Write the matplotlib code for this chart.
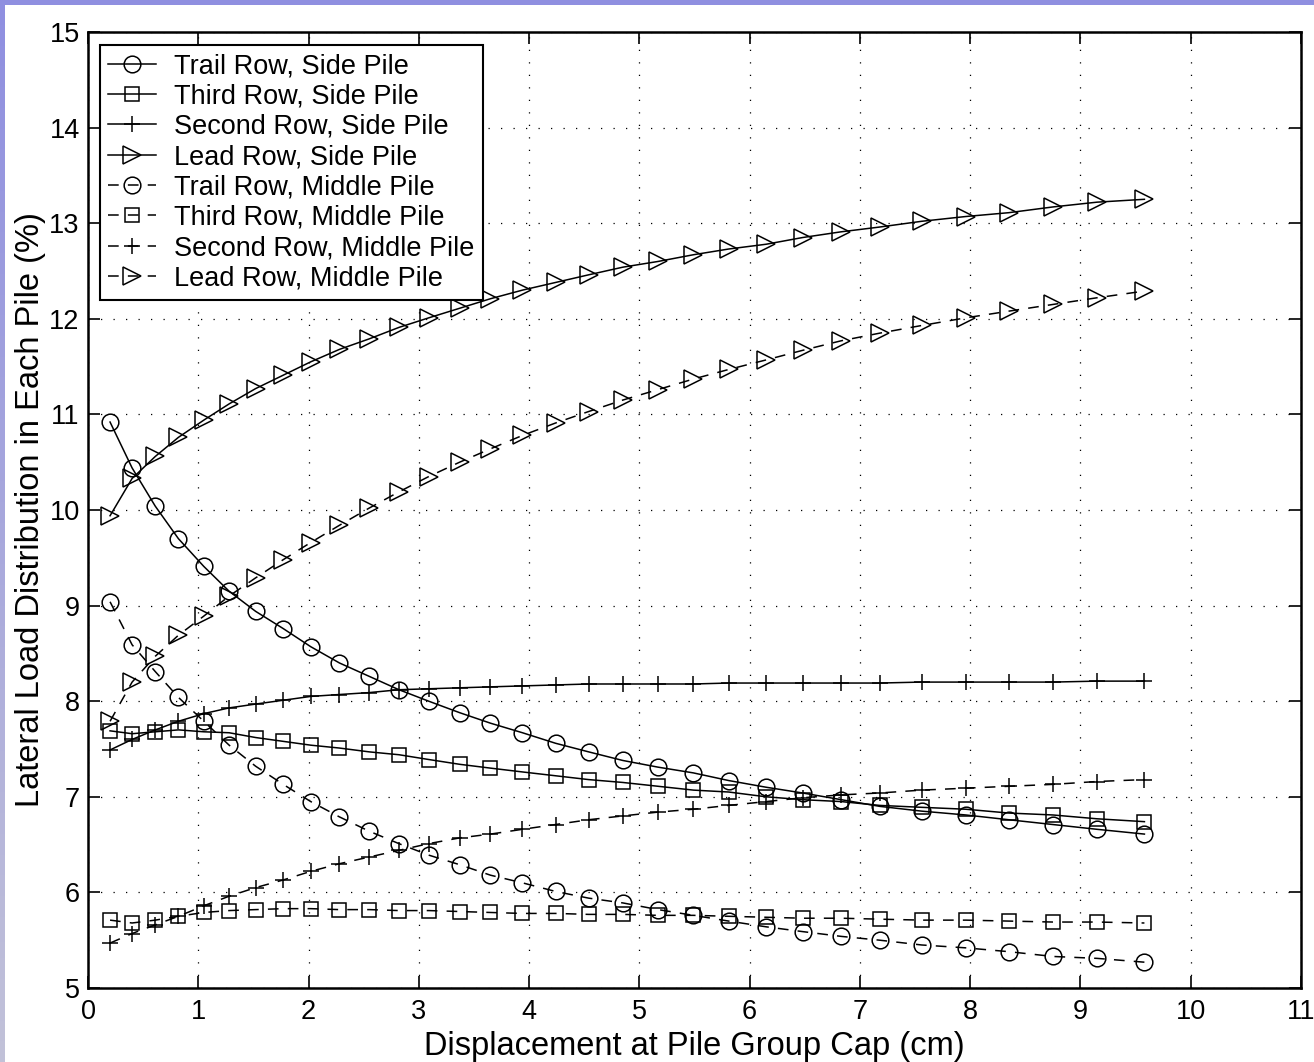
import numpy as np
import matplotlib
matplotlib.use("Agg")
import matplotlib.pyplot as plt

plt.rcParams['font.family'] = ['Liberation Sans', 'DejaVu Sans']

# displacement at the pile cap (cm), shared by every curve
disp = [0.20, 0.40, 0.61, 0.82, 1.05, 1.28, 1.52, 1.77, 2.02, 2.28, 2.55, 2.82,
        3.09, 3.37, 3.65, 3.94, 4.24, 4.54, 4.85, 5.17, 5.49, 5.81, 6.15, 6.48,
        6.83, 7.18, 7.56, 7.96, 8.35, 8.75, 9.15, 9.58]

# load share (%) per pile
trail_side = [10.92, 10.44, 10.04, 9.70, 9.41, 9.15, 8.94, 8.76, 8.57, 8.40, 8.26, 8.12,
              8.00, 7.88, 7.77, 7.67, 7.56, 7.47, 7.38, 7.31, 7.25, 7.17, 7.10, 7.04,
              6.97, 6.90, 6.85, 6.81, 6.76, 6.71, 6.66, 6.61]
third_side = [7.69, 7.66, 7.68, 7.70, 7.68, 7.67, 7.62, 7.58, 7.54, 7.51, 7.47, 7.44,
              7.39, 7.34, 7.30, 7.26, 7.22, 7.18, 7.15, 7.11, 7.07, 7.05, 7.00, 6.97,
              6.95, 6.91, 6.89, 6.87, 6.83, 6.81, 6.77, 6.74]
second_side = [7.49, 7.60, 7.70, 7.79, 7.87, 7.93, 7.97, 8.01, 8.05, 8.07, 8.09, 8.12,
               8.13, 8.14, 8.15, 8.16, 8.17, 8.18, 8.18, 8.18, 8.18, 8.19, 8.19, 8.19,
               8.19, 8.19, 8.20, 8.20, 8.20, 8.20, 8.21, 8.21]
lead_side = [9.94, 10.33, 10.56, 10.76, 10.94, 11.11, 11.27, 11.41, 11.55, 11.68, 11.79, 11.91,
             12.01, 12.11, 12.21, 12.30, 12.38, 12.46, 12.54, 12.60, 12.67, 12.73, 12.78, 12.85,
             12.91, 12.96, 13.02, 13.07, 13.11, 13.17, 13.22, 13.25]
trail_mid = [9.04, 8.59, 8.31, 8.04, 7.79, 7.54, 7.32, 7.13, 6.95, 6.79, 6.64, 6.51,
             6.39, 6.29, 6.18, 6.10, 6.01, 5.94, 5.89, 5.82, 5.76, 5.70, 5.64, 5.59,
             5.54, 5.50, 5.45, 5.42, 5.38, 5.33, 5.31, 5.27]
third_mid = [5.71, 5.68, 5.71, 5.75, 5.79, 5.81, 5.82, 5.83, 5.83, 5.82, 5.82, 5.81,
             5.81, 5.80, 5.79, 5.78, 5.78, 5.77, 5.77, 5.76, 5.76, 5.75, 5.74, 5.73,
             5.73, 5.72, 5.71, 5.71, 5.70, 5.69, 5.69, 5.68]
second_mid = [5.47, 5.57, 5.66, 5.75, 5.86, 5.96, 6.05, 6.13, 6.22, 6.30, 6.37, 6.44,
              6.51, 6.57, 6.61, 6.66, 6.71, 6.76, 6.80, 6.84, 6.87, 6.91, 6.95, 6.99,
              7.02, 7.04, 7.07, 7.09, 7.11, 7.13, 7.16, 7.18]
lead_mid = [7.79, 8.20, 8.47, 8.69, 8.89, 9.10, 9.29, 9.48, 9.66, 9.84, 10.02, 10.19,
            10.35, 10.50, 10.64, 10.78, 10.91, 11.03, 11.15, 11.26, 11.37, 11.47, 11.57, 11.67,
            11.77, 11.85, 11.93, 12.01, 12.08, 12.15, 12.22, 12.29]

labels = ['Trail Row, Side Pile', 'Third Row, Side Pile', 'Second Row, Side Pile',
          'Lead Row, Side Pile', 'Trail Row, Middle Pile', 'Third Row, Middle Pile',
          'Second Row, Middle Pile', 'Lead Row, Middle Pile']
series = [trail_side, third_side, second_side, lead_side,
          trail_mid, third_mid, second_mid, lead_mid]
markers = ['o', 's', '+', '>', 'o', 's', '+', '>']
msizes = {'o': 12, 's': 10, '+': 12, '>': 13}
dashed = (0, (7, 6))

fig = plt.figure(figsize=(13.14, 10.62), dpi=100)
fig.patch.set_facecolor('white')

# window frame strips along the top and left edge
strip = fig.add_axes([0, 0, 5 / 1314, 1])
grad = np.linspace(0, 1, 256).reshape(-1, 1)
cols = np.array([[0.56, 0.56, 0.88]]) * (1 - grad[:, :, None]) + np.array([[0.76, 0.76, 0.85]]) * grad[:, :, None]
strip.imshow(cols, aspect='auto', extent=[0, 1, 0, 1], origin='upper')
strip.axis('off')
top = fig.add_axes([0, 1 - 5 / 1062, 1, 5 / 1062])
top.axis('off')
top.add_patch(plt.Rectangle((0, 0), 1, 1, color='#8f8fe0', transform=top.transAxes))

ax = fig.add_axes([88 / 1314, 74 / 1062, 1213 / 1314, 956 / 1062])

for i, (y, lab, m) in enumerate(zip(series, labels, markers)):
    ls = '-' if i < 4 else dashed
    ax.plot(disp, y, linestyle=ls, color='black', lw=1.1, marker=m,
            ms=msizes[m], mfc='none', mec='black', mew=1.1, label=lab)

ax.set_xlim(0, 11)
ax.set_ylim(5, 15)
ax.set_xticks(range(0, 12))
ax.set_yticks(range(5, 16))
ax.grid(True, color='black', linestyle=(0, (1, 9)), linewidth=0.9)
ax.tick_params(direction='in', length=8.5, width=1.2, top=True, right=True,
               labelsize=19.5, pad=6)
ax.tick_params(axis='x', pad=8)
for sp in ax.spines.values():
    sp.set_linewidth(1.8)

ax.set_xlabel('Displacement at Pile Group Cap (cm)', fontsize=23.5, labelpad=4)
ax.set_ylabel('Lateral Load Distribution in Each Pile (%)', fontsize=23.5, labelpad=2)

leg = ax.legend(loc='upper left', bbox_to_anchor=(12 / 1213, 1 - 13 / 956),
                borderaxespad=0, fontsize=19.5, fancybox=False, framealpha=1,
                edgecolor='black', handlelength=1.75, handletextpad=0.7,
                labelspacing=0.16, borderpad=0.3)
leg.get_frame().set_linewidth(1.5)

fig.savefig('out.png', dpi=100)
